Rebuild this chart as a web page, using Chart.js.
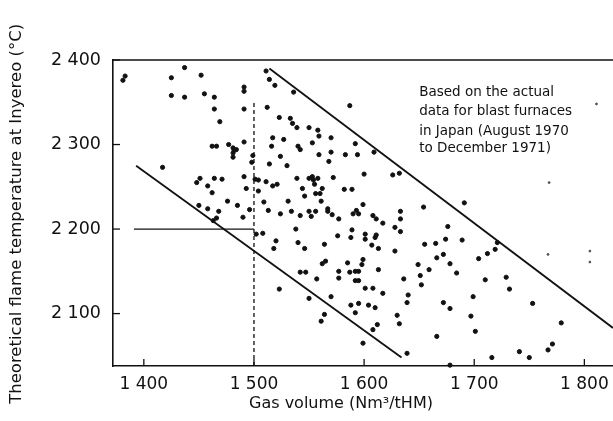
<!DOCTYPE html>
<html>
<head>
<meta charset="utf-8">
<script src="https://cdn.jsdelivr.net/npm/chart.js@4/dist/chart.umd.min.js"></script>
<style>
html,body{margin:0;padding:0;background:#fff;}
#wrap{width:613px;height:421px;position:relative;}
</style>
</head>
<body>
<div id="wrap"><canvas id="c" width="613" height="421"></canvas></div>
<script>
// ---- data ----
const gasVolume = [1381,1383,1425,1437,1452,1425,1437,1455,1464,1464,1469,1491,1491,1491,1511,1514,1519,1536,1512,1523,
1533,1535,1539,1550,1558,1559,1570,1587,1592,1517,1527,1553,1462,1466,1477,1481,1482,1484,1481,1481,
1491,1516,1540,1542,1524,1559,1570,1583,1594,1417,1499,1498,1514,1530,1568,1451,1448,1458,1462,1464,
1471,1491,1493,1501,1504,1504,1511,1517,1521,1539,1544,1550,1553,1554,1558,1555,1556,1560,1562,1572,
1582,1589,1546,1476,1485,1450,1458,1468,1490,1509,1513,1524,1531,1534,1542,1550,1552,1556,1561,1567,
1567,1571,1577,1590,1593,1595,1466,1463,1496,1502,1508,1520,1518,1538,1540,1546,1564,1576,1588,1589,
1562,1565,1585,1542,1547,1557,1577,1577,1587,1592,1595,1592,1595,1523,1550,1570,1588,1595,1564,1561,
1592,1609,1600,1626,1632,1599,1608,1611,1617,1633,1633,1654,1691,1628,1633,1601,1601,1611,1610,1607,
1613,1628,1598,1599,1613,1601,1608,1617,1636,1649,1659,1651,1652,1655,1665,1674,1676,1689,1672,1666,
1678,1684,1704,1712,1719,1721,1710,1729,1732,1699,1640,1639,1672,1678,1753,1604,1610,1612,1608,1630,
1632,1697,1701,1666,1599,1639,1678,1716,1741,1750,1767,1771,1779];
const flameTemp = [2376,2381,2379,2391,2382,2358,2356,2360,2356,2342,2327,2368,2363,2342,2387,2377,2370,2362,2344,2332,
2331,2325,2320,2320,2317,2310,2308,2346,2301,2308,2306,2302,2298,2298,2300,2296,2293,2294,2290,2285,
2303,2298,2298,2294,2286,2288,2291,2288,2288,2273,2287,2279,2277,2275,2280,2260,2255,2251,2243,2260,
2259,2262,2248,2259,2258,2245,2256,2251,2253,2260,2248,2260,2262,2258,2260,2253,2242,2242,2248,2261,
2247,2247,2239,2233,2228,2228,2224,2221,2214,2232,2222,2218,2233,2221,2216,2221,2215,2221,2233,2224,
2221,2217,2212,2218,2222,2218,2213,2210,2223,2194,2195,2186,2177,2200,2184,2177,2182,2192,2190,2199,
2159,2162,2160,2149,2149,2141,2150,2142,2149,2150,2150,2139,2139,2129,2118,2120,2110,2112,2099,2091,
2101,2291,2265,2264,2266,2229,2216,2212,2207,2221,2212,2226,2231,2202,2197,2194,2188,2193,2190,2181,
2177,2174,2158,2164,2152,2130,2130,2124,2141,2158,2152,2145,2134,2182,2183,2188,2203,2187,2170,2166,
2159,2148,2165,2171,2176,2184,2140,2143,2129,2120,2122,2113,2113,2106,2112,2110,2107,2087,2081,2098,
2088,2097,2079,2073,2065,2053,2039,2048,2055,2048,2057,2064,2089];
// faint specks
const faintGas = [1811,1768,1767,1805,1805];
const faintTemp = [2348,2255,2170,2174,2161];

// reference lines
const upperBoundGas = [1514,1826];
const upperBoundTemp = [2390,2083];
const lowerBoundGas = [1393,1634];
const lowerBoundTemp = [2275,2048];
const readGas = [1391,1500];
const readTemp = [2200,2200];
const dashGas = [1500,1500];
const dashTemp = [2038,2351];

const xTicks = [1400,1500,1600,1700,1800];
const yTicks = [2100,2200,2300,2400];
const xRange = [1372,1826];
const yRange = [2038,2400];

const xTitle = 'Gas volume (Nm³/tHM)';
const yTitle = 'Theoretical flame temperature at Inyereo (°C)';
const noteLines = ["Based on the actual","data for blast furnaces","in Japan (August 1970","to December 1971)"];
const noteAnchorGas = 1650;
const noteTemps = [2361,2339,2316,2295];

const pts = (xs, ys) => xs.map((x, i) => ({x: x, y: ys[i]}));
const fmt = v => { const s = String(v); return s.charAt(0) + ' ' + s.slice(1); };

const FONT = "'DejaVu Sans', sans-serif";

const decor = {
  id: 'decor',
  afterDatasetsDraw(chart) {
    const {ctx, chartArea, scales} = chart;
    const xs = scales.x, ys = scales.y;
    ctx.save();
    ctx.strokeStyle = '#111';
    ctx.lineWidth = 1.6;
    // top frame line
    ctx.beginPath();
    ctx.moveTo(chartArea.left, chartArea.top);
    ctx.lineTo(chartArea.right, chartArea.top);
    ctx.stroke();
    // inward ticks
    ctx.lineWidth = 1.3;
    yTicks.forEach(v => {
      const py = ys.getPixelForValue(v);
      ctx.beginPath(); ctx.moveTo(chartArea.left, py); ctx.lineTo(chartArea.left + 7, py); ctx.stroke();
    });
    xTicks.forEach(v => {
      const px = xs.getPixelForValue(v);
      ctx.beginPath(); ctx.moveTo(px, chartArea.bottom); ctx.lineTo(px, chartArea.bottom - 7); ctx.stroke();
    });
    ctx.fillStyle = '#111';
    // axis titles
    ctx.textAlign = 'center';
    ctx.textBaseline = 'middle';
    ctx.font = "16px " + FONT;
    ctx.fillText(xTitle, xs.getPixelForValue(1579), 404);
    ctx.save();
    ctx.translate(17, ys.getPixelForValue(2218));
    ctx.rotate(-Math.PI / 2);
    ctx.font = "16.5px " + FONT;
    ctx.fillText(yTitle, 0, 0);
    ctx.restore();
    // note text
    ctx.font = "13.5px " + FONT;
    ctx.textAlign = 'left';
    ctx.textBaseline = 'middle';
    const nx = xs.getPixelForValue(noteAnchorGas);
    noteLines.forEach((t, i) => ctx.fillText(t, nx, ys.getPixelForValue(noteTemps[i])));
    ctx.restore();
  }
};

new Chart(document.getElementById('c'), {
  type: 'scatter',
  data: {
    datasets: [
      {label: 'Blast furnace data', data: pts(gasVolume, flameTemp), backgroundColor: '#111', borderColor: '#111',
       pointRadius: 2.1, pointHoverRadius: 2.1, clip: false},
      {label: 'faint', data: pts(faintGas, faintTemp), backgroundColor: '#444', borderColor: '#444',
       pointRadius: 0.9, clip: false},
      {label: 'upper', type: 'line', data: pts(upperBoundGas, upperBoundTemp), borderColor: '#111', borderWidth: 1.8,
       pointRadius: 0, fill: false, clip: false},
      {label: 'lower', type: 'line', data: pts(lowerBoundGas, lowerBoundTemp), borderColor: '#111', borderWidth: 1.8,
       pointRadius: 0, fill: false},
      {label: 'read', type: 'line', data: pts(readGas, readTemp), borderColor: '#111', borderWidth: 1.3,
       pointRadius: 0, fill: false},
      {label: 'dash', type: 'line', data: pts(dashGas, dashTemp), borderColor: '#111', borderWidth: 1.3,
       borderDash: [4, 3], pointRadius: 0, fill: false}
    ]
  },
  options: {
    responsive: false,
    animation: false,
    events: [],
    layout: {autoPadding: false, padding: {left: 0, right: 0, top: 60, bottom: 0}},
    plugins: {legend: {display: false}, tooltip: {enabled: false}},
    scales: {
      x: {
        type: 'linear', min: xRange[0], max: xRange[1],
        afterBuildTicks: s => { s.ticks = xTicks.map(v => ({value: v})); },
        afterFit: s => { s.height = 55; s.paddingLeft = 0; s.paddingRight = 0; },
        grid: {display: false, drawTicks: false},
        border: {display: true, color: '#111', width: 1.6},
        ticks: {color: '#111', font: {family: FONT, size: 17}, padding: 8, callback: v => fmt(v), maxRotation: 0, autoSkip: false},
        title: {display: false}
      },
      y: {
        type: 'linear', min: yRange[0], max: yRange[1],
        afterBuildTicks: s => { s.ticks = yTicks.map(v => ({value: v})); },
        afterFit: s => { s.width = 113; s.paddingTop = 0; s.paddingBottom = 0; },
        grid: {display: false, drawTicks: false},
        border: {display: true, color: '#111', width: 1.6},
        ticks: {color: '#111', font: {family: FONT, size: 17.5}, padding: 12, callback: v => fmt(v)},
        title: {display: false}
      }
    }
  },
  plugins: [decor]
});
</script>
</body>
</html>
